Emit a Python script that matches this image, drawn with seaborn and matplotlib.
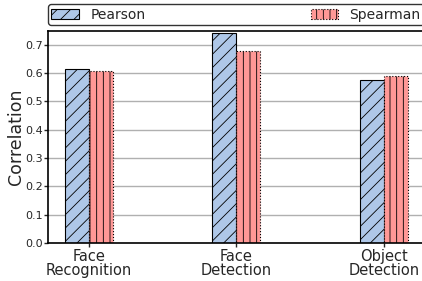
import matplotlib
matplotlib.use('Agg')
import matplotlib.pyplot as plt
import seaborn as sns
import pandas as pd

# values
tasks = ['Face\nRecognition', 'Face\nDetection', 'Object\nDetection']
pearson = [0.613, 0.741, 0.574]
spearman = [0.607, 0.677, 0.590]
methods = ['Pearson', 'Spearman']

df = pd.DataFrame({
    'task': tasks * 2,
    'corr': pearson + spearman,
    'method': ['Pearson'] * len(tasks) + ['Spearman'] * len(tasks),
})

# render at dpi 80 so the hatch spacing matches; sizes scaled to keep pixels
DPI = 80
S = 100 / DPI

sns.set_style('ticks')
plt.rcParams['font.family'] = ['DejaVu Sans']
plt.rcParams['hatch.linewidth'] = 0.6 * S

fig = plt.figure(figsize=(422 / DPI, 281 / DPI), dpi=DPI)
ax = fig.add_axes([0.114, 0.135, 0.97, 0.756])

sns.barplot(data=df, x='task', y='corr', hue='method', hue_order=methods,
            palette=['#aec7e8', '#ff9896'], width=0.326, saturation=1,
            legend=False, ax=ax)

hatches = ['//', '||']
styles = ['-', ':']
for cont, h, ls in zip(ax.containers, hatches, styles):
    for bar in cont:
        bar.set_hatch(h)
        bar.set_edgecolor('black')
        bar.set_linestyle(ls)
        bar.set_linewidth(0.8 * S)

ax.set_xlim(-0.275, 2.5)
ax.set_ylim(0, 0.75)
ax.yaxis.grid(True, color='#b0b0b0', linewidth=1 * S)
ax.set_axisbelow(True)
for s in ax.spines.values():
    s.set_color('black')
    s.set_linewidth(1.2 * S)
ax.set_xlabel('')
ax.set_ylabel('Correlation', fontsize=12.5 * S, labelpad=0)
ax.tick_params(axis='x', labelsize=10.5 * S, length=3 * S, width=S, pad=1 * S)
ax.tick_params(axis='y', labelsize=8 * S, length=3 * S, width=S, pad=1 * S)
for lbl in ax.get_xticklabels():
    lbl.set_linespacing(0.95)

leg = ax.legend(ax.containers, methods, ncol=2, mode='expand', fontsize=10 * S,
                bbox_to_anchor=(48 / 422, 0.911, 376 / 422, 0.082),
                bbox_transform=fig.transFigure, loc='lower left',
                borderaxespad=0, frameon=True, edgecolor='black', fancybox=True,
                handlelength=2.0, borderpad=0.25)
leg.get_frame().set_linewidth(1.0 * S)

fig.savefig('out.png', dpi=DPI)
